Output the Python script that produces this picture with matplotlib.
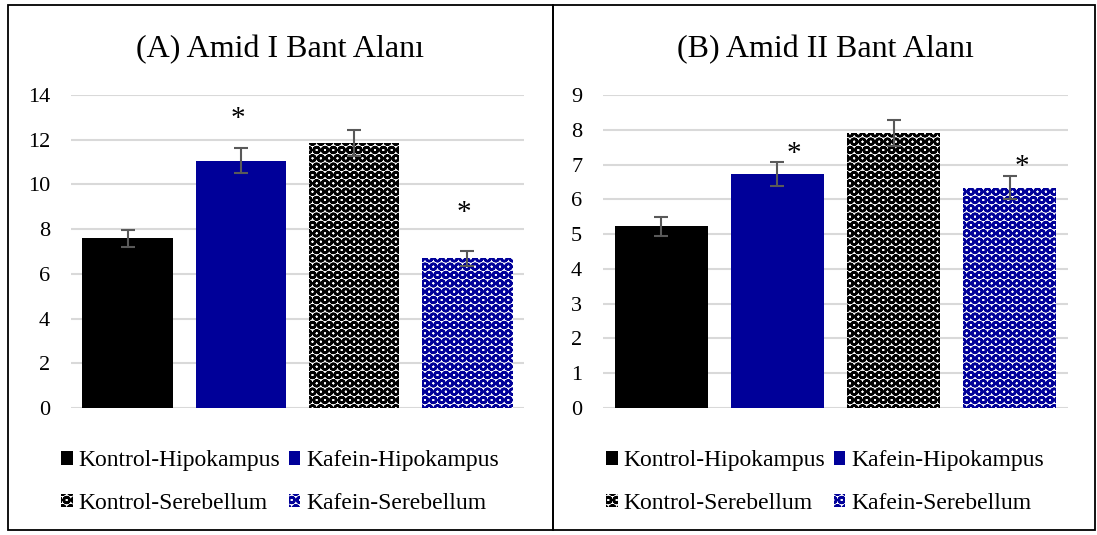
import matplotlib
matplotlib.use("Agg")
import matplotlib.pyplot as plt
from matplotlib.patches import Rectangle, Patch
import numpy as np

categories = ['Kontrol-Hipokampus', 'Kafein-Hipokampus', 'Kontrol-Serebellum', 'Kafein-Serebellum']
amid1_values = [7.6, 11.05, 11.85, 6.7]
amid1_errors = [0.38, 0.56, 0.60, 0.33]
amid2_values = [5.22, 6.72, 7.90, 6.33]
amid2_errors = [0.26, 0.35, 0.38, 0.33]
amid1_star_idx = [1, 3]
amid1_star_y = [13.2, 9.0]
amid2_star_idx = [1, 3]
amid2_star_y = [7.45, 7.1]
amid1_ticks = [0, 2, 4, 6, 8, 10, 12, 14]
amid2_ticks = [0, 1, 2, 3, 4, 5, 6, 7, 8, 9]
titles = ['(A) Amid I Bant Alanı', '(B) Amid II Bant Alanı']

FAM = 'Liberation Serif'
plt.rcParams['font.family'] = 'serif'
plt.rcParams['font.serif'] = ['Liberation Serif', 'DejaVu Serif']
plt.rcParams['hatch.linewidth'] = 1.8

BLACK = '#000000'
BLUE = '#000099'
styles = [
    dict(color=BLACK, hatch=None),
    dict(color=BLUE, hatch=None),
    dict(color='white', edge=BLACK, hatch='OO'),
    dict(color='white', edge=BLUE, hatch='OO'),
]

fig = plt.figure(figsize=(10.97, 5.35), dpi=100)
W, H = 1097, 535

def fx(px):
    return px / W

def fy(py):
    return 1 - py / H

# panel borders
for x0, x1 in [(8, 553), (553, 1095)]:
    fig.patches.append(Rectangle((fx(x0), fy(530)), fx(x1) - fx(x0), fy(5) - fy(530),
                                 transform=fig.transFigure, fill=False,
                                 edgecolor='black', linewidth=1.3, zorder=0))

panels = [
    dict(rect=(71, 524), vals=amid1_values, errs=amid1_errors, ticks=amid1_ticks,
         star_idx=amid1_star_idx, star_y=amid1_star_y, star_dx=[-0.03, -0.03], center=280),
    dict(rect=(603, 1068), vals=amid2_values, errs=amid2_errors, ticks=amid2_ticks,
         star_idx=amid2_star_idx, star_y=amid2_star_y, star_dx=[0.14, 0.1], center=825),
]
star_shift = [0.27, 0.16]

for k, (p, title) in enumerate(zip(panels, titles)):
    x0, x1 = p['rect']
    ax = fig.add_axes([fx(x0), fy(408), fx(x1) - fx(x0), fy(95) - fy(408)])
    x = np.arange(len(categories))
    for i, (v, e, st) in enumerate(zip(p['vals'], p['errs'], styles)):
        if st['hatch'] is None:
            ax.bar(x[i], v, width=0.8, color=st['color'], linewidth=0, zorder=2)
        else:
            ax.bar(x[i], v, width=0.8, facecolor='white', edgecolor=st['edge'],
                   hatch=st['hatch'], linewidth=0, zorder=2)
    ax.errorbar(x, p['vals'], yerr=p['errs'], fmt='none', ecolor='#595959',
                elinewidth=1.5, capsize=5, capthick=1.5, zorder=3)
    for idx, sy, dx in zip(p['star_idx'], p['star_y'], p['star_dx']):
        ax.text(x[idx] + dx, sy - star_shift[k], '*', ha='center', va='center',
                fontsize=21, family=FAM, zorder=4)
    ax.set_xlim(-0.5, len(categories) - 0.5)
    ax.set_ylim(p['ticks'][0], p['ticks'][-1])
    ax.set_yticks(p['ticks'])
    ax.set_yticklabels([str(t) for t in p['ticks']], family=FAM, fontsize=16)
    ax.set_xticks([])
    ax.grid(axis='y', color='#d9d9d9', linewidth=1.5, zorder=0)
    ax.set_axisbelow(True)
    for s in ax.spines.values():
        s.set_visible(False)
    ax.tick_params(axis='y', length=0, pad=15)
    fig.text(fx(p['center']), fy(50), title, ha='center', va='center', fontsize=23, family=FAM)

    handles = []
    for st, c in zip(styles, categories):
        if st['hatch'] is None:
            handles.append(Patch(facecolor=st['color'], edgecolor='none', label=c))
        else:
            handles.append(Patch(facecolor='white', edgecolor=st['edge'], hatch=st['hatch'],
                                 linewidth=0, label=c))
    order = [0, 2, 1, 3]
    fig.legend([handles[i] for i in order], [categories[i] for i in order],
               loc='center', bbox_to_anchor=(fx(p['center']), fy(482)), ncol=2, frameon=False,
               prop=dict(family=FAM, size=17), handlelength=0.5, handleheight=0.5,
               handletextpad=0.25, columnspacing=0.35, labelspacing=0.9,
               borderpad=0, borderaxespad=0)

fig.savefig('out.png', dpi=100)
